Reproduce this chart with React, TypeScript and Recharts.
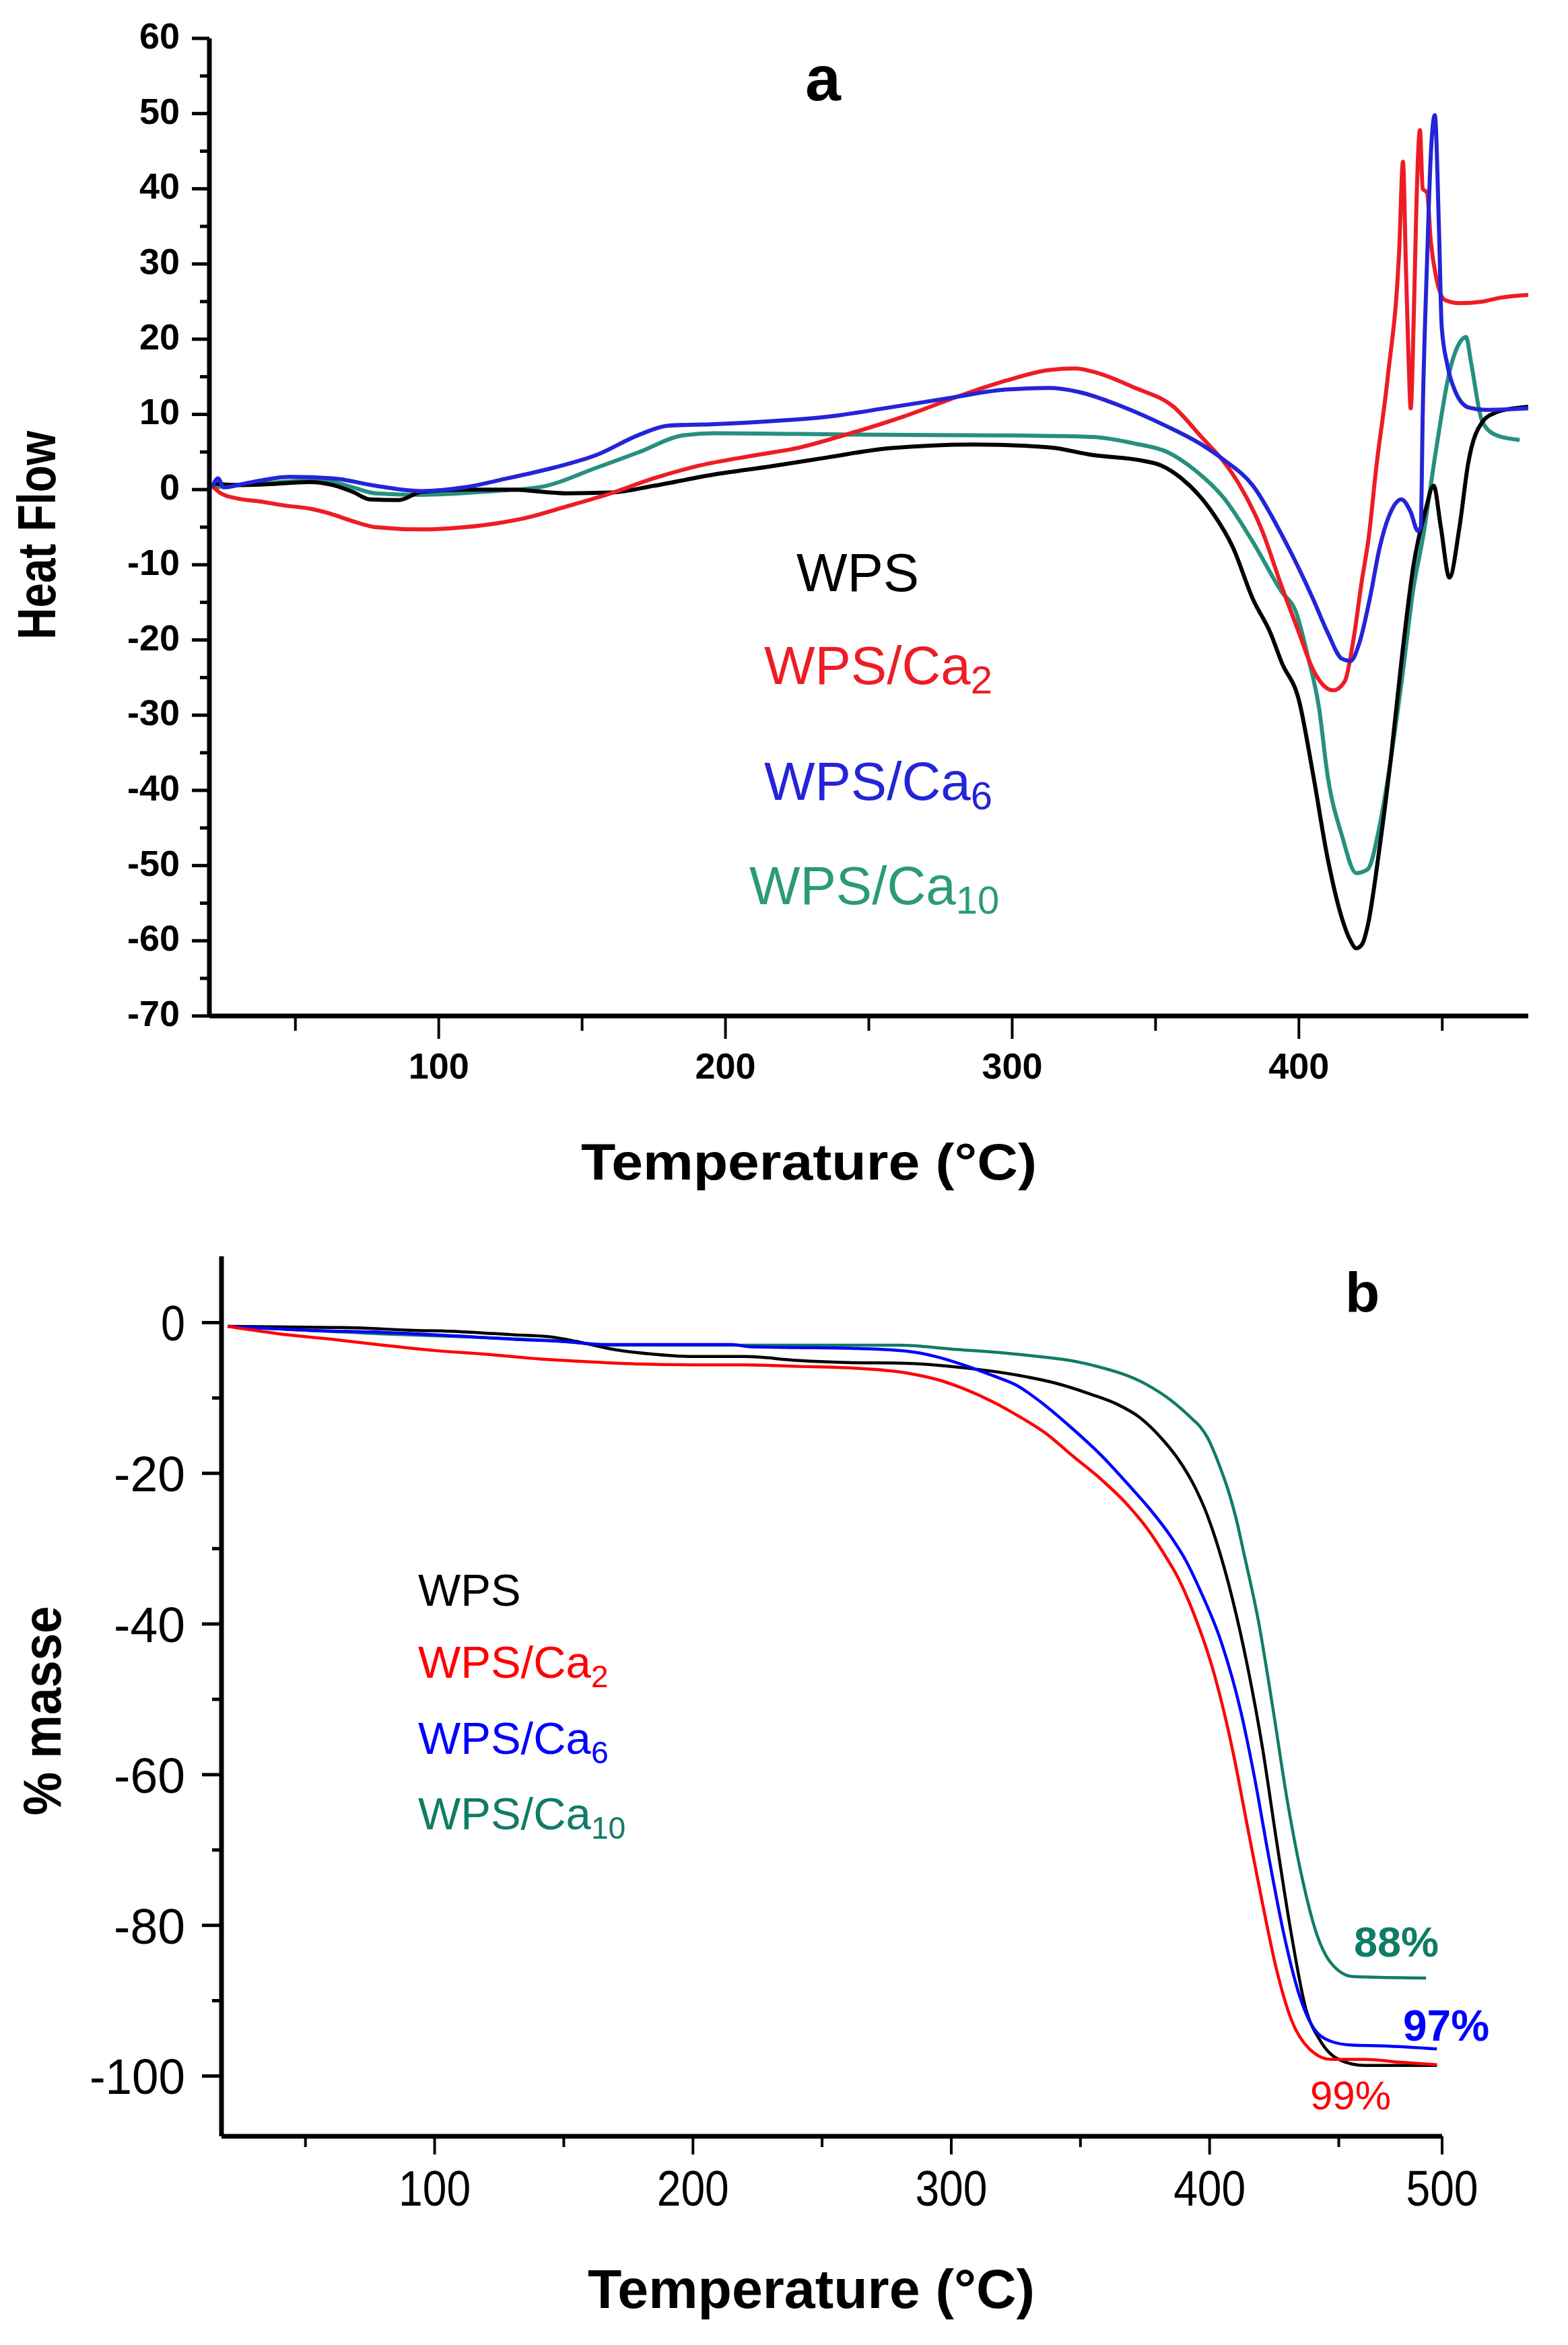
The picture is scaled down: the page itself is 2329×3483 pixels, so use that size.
import { LineChart, Line, XAxis, YAxis } from 'recharts';

const FONT = "'Liberation Sans', Arial, Helvetica, sans-serif";

// ---- panel a : DSC heat flow (temperature °C, heat flow) ----
const dscWPS: [number, number][] = [
  [22, 0.8], [30, 0.6], [40, 0.7], [55, 1.0], [63, 0.6], [70, -0.3], [76, -1.3], [86, -1.4],
  [94, -0.3], [110, 0], [125, 0], [145, -0.5], [160, -0.4], [175, 0.5], [196, 2.0], [216, 3.1],
  [236, 4.3], [257, 5.5], [287, 6.0], [313, 5.6], [328, 4.6], [346, 3.8], [352, 3.2], [359, 1.5],
  [369, -2.6], [377, -7.7], [384, -14.6], [390, -19], [394, -23], [400, -28], [405, -38],
  [410, -49], [415, -57], [418, -60], [420, -61], [422, -60.5], [424, -58], [428, -48], [432, -36],
  [436, -22], [440, -10], [444, -3], [447, 0.5], [449.5, -5], [452.5, -11.7], [456, -5],
  [459, 3.4], [464, 9], [469, 10.3], [475, 10.8], [480, 11],
];
const dscCa2: [number, number][] = [
  [21, 0.5], [24, -0.5], [30, -1.2], [38, -1.6], [46, -2.1], [56, -2.6], [63, -3.3], [70, -4.2],
  [78, -5.0], [94, -5.3], [109, -5.0], [120, -4.5], [130, -3.8], [145, -2.2], [160, -0.5],
  [175, 1.5], [191, 3.2], [211, 4.6], [226, 5.6], [242, 7.3], [262, 9.7], [282, 12.5],
  [298, 14.5], [313, 15.9], [322, 16.1], [328, 15.7], [343, 13.5], [356, 11.1], [366, 7.0],
  [374, 3.6], [379, 0.8], [387, -5.3], [394, -12.9], [400, -19], [405, -24], [409, -26.2],
  [412, -26.7], [416, -25.5], [419, -20], [422, -12], [424.3, -6.5], [427, 3], [431, 15],
  [435, 32], [436.3, 43.6], [437.3, 30], [438.2, 18], [439, 10.8], [440, 22], [441, 38],
  [442.2, 47.8], [443.2, 40], [444.7, 39.5], [446, 33], [448, 28], [451, 25.2], [456, 24.8],
  [464, 25], [470, 25.5], [480, 25.9],
];
const dscCa6: [number, number][] = [
  [21, 0.3], [23, 1.5], [25, 0.3], [33, 0.85], [48, 1.7], [63, 1.5], [78, 0.5], [94, -0.2],
  [109, 0.3], [124, 1.5], [140, 2.9], [155, 4.6], [170, 7.3], [180, 8.5], [196, 8.7], [216, 9.1],
  [236, 9.7], [257, 10.9], [277, 12.1], [298, 13.3], [313, 13.5], [323, 13.0], [338, 11.1],
  [354, 8.4], [366, 6.0], [374, 3.9], [384, 0.5], [394, -6.0], [405, -14.6], [410, -19],
  [415, -22.5], [418, -22.8], [421, -20.5], [425, -14], [428, -8], [432, -3], [435.7, -1.3],
  [439, -3], [441.5, -5.5], [442.5, -5], [443.2, 10.3], [444.7, 30.4], [446, 44.5],
  [447.4, 49.8], [448.9, 34], [449.8, 21.7], [451.7, 16.7], [454.6, 13], [459.3, 10.9],
  [465, 10.6], [480, 10.8],
];
const dscCa10: [number, number][] = [
  [21, 0.2], [24, 0.4], [38, 0.8], [56, 1.2], [63, 1.0], [70, 0.3], [78, -0.5], [94, -0.7],
  [119, -0.2], [135, 0.3], [155, 2.9], [170, 5.0], [185, 7.2], [196, 7.5], [247, 7.3],
  [298, 7.2], [328, 7.0], [343, 6.1], [354, 5.0], [364, 2.5], [374, -1.2], [384, -7.0],
  [394, -13.6], [399, -16.3], [403, -22], [407, -29], [410, -38], [415, -46], [420, -51],
  [424, -50.5], [428, -45], [432, -36], [436, -25], [440, -13], [443.2, -6.5], [448, 5.7],
  [452.6, 15.8], [456, 19.5], [458.3, 20.3], [460, 17], [464, 9], [469, 7.2], [477, 6.6],
];
const dscXTicks = [50, 100, 150, 200, 250, 300, 350, 400, 450];
const dscYTicks = [-70, -65, -60, -55, -50, -45, -40, -35, -30, -25, -20, -15, -10, -5, 0, 5, 10, 15, 20, 25, 30, 35, 40, 45, 50, 55, 60];

// ---- panel b : TGA mass loss (temperature °C, % masse) ----
const tgaWPS: [number, number][] = [
  [20, -0.5], [50, -0.6], [70, -0.7], [90, -1.0], [110, -1.2], [130, -1.6], [145, -1.9],
  [155, -2.5], [170, -3.6], [185, -4.2], [200, -4.5], [220, -4.5], [240, -5.0], [260, -5.3],
  [283, -5.4], [305, -6.0], [326, -7.0], [340, -8.0], [354, -9.5], [364, -10.8], [373, -12.6],
  [382, -15.6], [388, -18.2], [393.5, -21.3], [398, -24.6], [402, -28.4], [409, -36.9],
  [414.6, -45.5], [420.3, -56.1], [426, -69], [431.6, -81.1], [437.2, -91], [442.8, -95.3],
  [450, -97.8], [460, -98.6], [488, -98.6],
];
const tgaCa2: [number, number][] = [
  [20, -0.5], [40, -1.5], [60, -2.2], [80, -3.0], [100, -3.7], [120, -4.2], [140, -4.8],
  [160, -5.2], [180, -5.5], [200, -5.6], [220, -5.6], [240, -5.8], [260, -6.0], [283, -6.7],
  [295, -7.6], [305, -8.8], [316, -10.5], [326, -12.4], [337, -14.8], [347, -17.7],
  [358, -20.8], [368, -24.1], [376, -27.4], [382, -30.5], [388, -34.0], [393.5, -38.3],
  [402, -46.9], [409, -56.9], [414.6, -66.8], [420.3, -76.8], [426, -86], [431.6, -92.5],
  [438.6, -96.4], [447, -97.8], [460, -97.8], [475, -98.2], [488, -98.5],
];
const tgaCa6: [number, number][] = [
  [20, -0.5], [50, -1.0], [80, -1.3], [110, -1.8], [130, -2.2], [150, -2.5], [165, -2.9],
  [215, -2.9], [222, -3.2], [240, -3.3], [260, -3.4], [283, -3.8], [294, -4.5], [304.6, -5.6],
  [315, -6.9], [325.7, -8.4], [336, -10.9], [347, -14.1], [358, -17.6], [368, -21.3],
  [377, -24.8], [385, -28.4], [391, -31.7], [396.3, -35.5], [404.7, -42.6], [411.8, -51.2],
  [417.4, -60.4], [423, -71.1], [428.7, -81.1], [434.4, -88.9], [440, -93.5], [447, -95.4],
  [455, -95.9], [467, -96], [488, -96.4],
];
const tgaCa10: [number, number][] = [
  [20, -0.5], [50, -1.0], [80, -1.5], [120, -2.0], [150, -2.5], [170, -3.0], [200, -3.0],
  [280, -3.0], [300, -3.5], [325.7, -4.2], [354, -5.6], [375, -8.1], [385, -10.3],
  [393.5, -12.85], [396.3, -13.8], [399.1, -15.2], [401.9, -17.3], [404.7, -19.8],
  [407.6, -22.7], [410.4, -26.2], [413.2, -30.5], [419, -39.8], [424.5, -51.2], [430, -63.3],
  [436, -74], [441.4, -81.1], [447, -85], [455.5, -86.8], [483.8, -87.0],
];
const tgaXTicks = [50, 100, 150, 200, 250, 300, 350, 400, 450, 490];
const tgaXLabels: Record<number, string> = { 100: '100', 200: '200', 300: '300', 400: '400', 490: '500' };
const tgaYTicks = [-100, -90, -80, -70, -60, -50, -40, -30, -20, -10, 0];

const toPts = (pairs: [number, number][]) => pairs.map(([t, v]) => ({ t, v }));

// plot boxes (pixels inside each chart svg)
const A = { w: 2329, h: 1800, left: 311, right: 2270, top: 57, bottom: 1509 };
const B = { w: 2329, h: 1683, left: 329, right: 2142, top: 66, bottom: 1373 };

function DscYTick({ y, payload }: any) {
  const v = payload.value;
  const major = v % 10 === 0;
  return (
    <g>
      <line x1={A.left - (major ? 26 : 14)} x2={A.left} y1={y} y2={y} stroke="#000" strokeWidth={5} />
      {major && (
        <text x={267} y={y + 15} textAnchor="end" fontFamily={FONT} fontWeight="bold" fontSize={54} fill="#000">
          {v}
        </text>
      )}
    </g>
  );
}

function DscXTick({ x, payload }: any) {
  const v = payload.value;
  const major = v % 100 === 0;
  return (
    <g>
      <line x1={x} x2={x} y1={A.bottom} y2={A.bottom + (major ? 34 : 22)} stroke="#000" strokeWidth={4} />
      {major && (
        <text x={x} y={1602} textAnchor="middle" fontFamily={FONT} fontWeight="bold" fontSize={54} fill="#000">
          {v}
        </text>
      )}
    </g>
  );
}

function TgaYTick({ y, payload }: any) {
  const v = payload.value;
  const major = v % 20 === 0;
  const s = String(v);
  const len = s.replace('-', '').length * 36 + (s.startsWith('-') ? 34 : 0);
  return (
    <g>
      <line x1={B.left - (major ? 29 : 14)} x2={B.left} y1={y} y2={y} stroke="#000" strokeWidth={5} />
      {major && (
        <text x={275} y={y + 27} textAnchor="end" fontFamily={FONT} fontSize={75} fill="#000"
          textLength={len} lengthAdjust="spacingAndGlyphs">
          {s}
        </text>
      )}
    </g>
  );
}

function TgaXTick({ x, payload }: any) {
  const v = payload.value;
  const label = tgaXLabels[v];
  return (
    <g>
      <line x1={x} x2={x} y1={B.bottom} y2={B.bottom + (label ? 27 : 16)} stroke="#000" strokeWidth={4} />
      {label && (
        <text x={x} y={1476} textAnchor="middle" fontFamily={FONT} fontSize={75} fill="#000"
          textLength={107} lengthAdjust="spacingAndGlyphs">
          {label}
        </text>
      )}
    </g>
  );
}

const topColors = { wps: '#000000', ca2: '#ee1c25', ca6: '#2424d8', ca10: '#26907e' };
const botColors = { wps: '#000000', ca2: '#ff0000', ca6: '#0000ff', ca10: '#0f7c66' };

export default function App() {
  return (
    <div style={{ position: 'absolute', left: 0, top: 0, width: 2329, height: 3483, background: '#fff' }}>
      <div style={{ position: 'absolute', left: 0, top: 0 }}>
        <LineChart width={A.w} height={A.h}
          margin={{ top: A.top, right: A.w - A.right, left: A.left - 150, bottom: A.h - A.bottom - 120 }}>
          <XAxis type="number" dataKey="t" domain={[20, 480]} ticks={dscXTicks} interval={0}
            allowDataOverflow height={120} tickLine={false}
            axisLine={{ stroke: '#000', strokeWidth: 7 }} tick={(p: any) => <DscXTick {...p} />} />
          <YAxis type="number" dataKey="v" domain={[-70, 60]} ticks={dscYTicks} interval={0}
            allowDataOverflow width={150} tickLine={false}
            axisLine={{ stroke: '#000', strokeWidth: 7 }} tick={(p: any) => <DscYTick {...p} />} />
          <Line data={toPts(dscCa10)} dataKey="v" type="monotoneX" stroke={topColors.ca10} strokeWidth={6} dot={false} isAnimationActive={false} />
          <Line data={toPts(dscWPS)} dataKey="v" type="monotoneX" stroke={topColors.wps} strokeWidth={6} dot={false} isAnimationActive={false} />
          <Line data={toPts(dscCa2)} dataKey="v" type="monotoneX" stroke={topColors.ca2} strokeWidth={6} dot={false} isAnimationActive={false} />
          <Line data={toPts(dscCa6)} dataKey="v" type="monotoneX" stroke={topColors.ca6} strokeWidth={6} dot={false} isAnimationActive={false} />
        </LineChart>
      </div>
      <div style={{ position: 'absolute', left: 0, top: 1800 }}>
        <LineChart width={B.w} height={B.h}
          margin={{ top: B.top, right: B.w - B.right, left: B.left - 150, bottom: B.h - B.bottom - 120 }}>
          <XAxis type="number" dataKey="t" domain={[17.5, 490]} ticks={tgaXTicks} interval={0}
            allowDataOverflow height={120} tickLine={false}
            axisLine={{ stroke: '#000', strokeWidth: 7 }} tick={(p: any) => <TgaXTick {...p} />} />
          <YAxis type="number" dataKey="v" domain={[-108, 8.8]} ticks={tgaYTicks} interval={0}
            allowDataOverflow width={150} tickLine={false}
            axisLine={{ stroke: '#000', strokeWidth: 7 }} tick={(p: any) => <TgaYTick {...p} />} />
          <Line data={toPts(tgaCa10)} dataKey="v" type="monotoneX" stroke={botColors.ca10} strokeWidth={4.5} dot={false} isAnimationActive={false} />
          <Line data={toPts(tgaWPS)} dataKey="v" type="monotoneX" stroke={botColors.wps} strokeWidth={4.5} dot={false} isAnimationActive={false} />
          <Line data={toPts(tgaCa6)} dataKey="v" type="monotoneX" stroke={botColors.ca6} strokeWidth={4.5} dot={false} isAnimationActive={false} />
          <Line data={toPts(tgaCa2)} dataKey="v" type="monotoneX" stroke={botColors.ca2} strokeWidth={4.5} dot={false} isAnimationActive={false} />
        </LineChart>
      </div>

      {/* titles, axis names and in-plot labels */}
      <svg width={2329} height={3483} style={{ position: 'absolute', left: 0, top: 0, pointerEvents: 'none' }}
        fontFamily={FONT}>
        <text x={1196} y={149} fontSize={95} fontWeight="bold">a</text>
        <text transform="translate(82 795) rotate(-90)" textAnchor="middle" fontSize={80} fontWeight="bold"
          textLength={310} lengthAdjust="spacingAndGlyphs">Heat Flow</text>
        <text x={863} y={1752} fontSize={76} fontWeight="bold" textLength={677} lengthAdjust="spacingAndGlyphs">
          Temperature (°C)
        </text>
        <text x={1183} y={878} fontSize={80} fill={topColors.wps}>WPS</text>
        <text x={1135} y={1016} fontSize={80} fill={topColors.ca2}>WPS/Ca<tspan fontSize={58} dy={14}>2</tspan></text>
        <text x={1135} y={1188} fontSize={80} fill={topColors.ca6}>WPS/Ca<tspan fontSize={58} dy={14}>6</tspan></text>
        <text x={1113} y={1343} fontSize={80} fill="#2a9a7a">WPS/Ca<tspan fontSize={58} dy={14}>10</tspan></text>

        <text x={1998} y={1949} fontSize={84} fontWeight="bold">b</text>
        <text transform="translate(90 2541) rotate(-90)" textAnchor="middle" fontSize={80} fontWeight="bold"
          textLength={311} lengthAdjust="spacingAndGlyphs">% masse</text>
        <text x={873} y={3428} fontSize={81} fontWeight="bold" textLength={664} lengthAdjust="spacingAndGlyphs">
          Temperature (°C)
        </text>
        <text x={621} y={2385} fontSize={67} fill={botColors.wps}>WPS</text>
        <text x={621} y={2492} fontSize={67} fill={botColors.ca2}>WPS/Ca<tspan fontSize={46} dy={14}>2</tspan></text>
        <text x={621} y={2605} fontSize={67} fill={botColors.ca6}>WPS/Ca<tspan fontSize={46} dy={14}>6</tspan></text>
        <text x={621} y={2717} fontSize={67} fill={botColors.ca10}>WPS/Ca<tspan fontSize={46} dy={14}>10</tspan></text>
        <text x={2011} y={2906} fontSize={63} fontWeight="bold" fill={botColors.ca10}>88%</text>
        <text x={2084} y={3031} fontSize={64} fontWeight="bold" fill={botColors.ca6}>97%</text>
        <text x={1946} y={3133} fontSize={60} fill={botColors.ca2}>99%</text>
      </svg>
    </div>
  );
}
